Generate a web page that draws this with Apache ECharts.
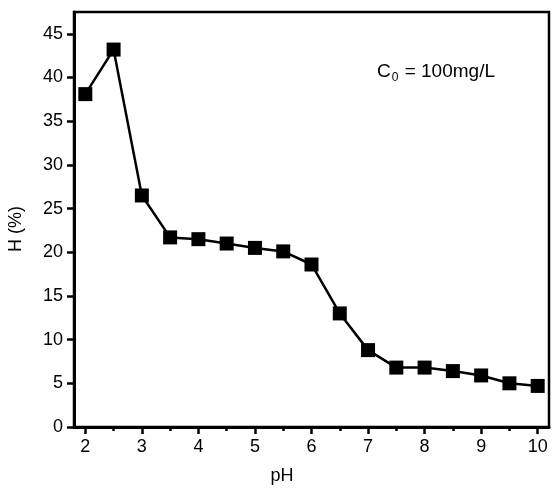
<!DOCTYPE html>
<html>
<head>
<meta charset="utf-8">
<script src="https://cdn.jsdelivr.net/npm/echarts@6/dist/echarts.min.js"></script>
<style>
  html, body { margin: 0; padding: 0; background: #fff; }
  #chart { width: 552px; height: 491px; }
</style>
</head>
<body>
<div id="chart"></div>
<script>
// pH values and H (%)
const phValues = [2, 2.5, 3, 3.5, 4, 4.5, 5, 5.5, 6, 6.5, 7, 7.5, 8, 8.5, 9, 9.5, 10]
const hValues = [38.1, 43.2, 26.5, 21.7, 21.5, 21.0, 20.5, 20.1, 18.6, 13.0, 8.8, 6.8, 6.8, 6.4, 5.9, 5.0, 4.7]
const xMajorTicks = [2, 3, 4, 5, 6, 7, 8, 9, 10]
const xMinorTicks = [2.5, 3.5, 4.5, 5.5, 6.5, 7.5, 8.5, 9.5]
const yMajorTicks = [0, 5, 10, 15, 20, 25, 30, 35, 40, 45]

const font = 'Liberation Sans, Arial, sans-serif'
let myChart = echarts.init(document.getElementById('chart'))

let option = {
    animation: false,
    backgroundColor: '#fff',
    grid: {
        left: 74,
        top: 12,
        right: 3,
        bottom: 64,
        show: true,
        borderColor: '#000',
        borderWidth: 2.5
    },
    xAxis: [
        {
            type: 'value',
            min: 1.8,
            max: 10.2,
            axisLine: { lineStyle: { color: '#000', width: 3 } },
            axisTick: { customValues: xMajorTicks, length: 7, lineStyle: { color: '#000', width: 2.5 } },
            axisLabel: { customValues: xMajorTicks, margin: 11, fontFamily: font, fontSize: 18, color: '#000' },
            splitLine: { show: false }
        },
        {
            // minor ticks on the pH axis
            type: 'value',
            min: 1.8,
            max: 10.2,
            position: 'bottom',
            axisLine: { show: false },
            axisTick: { customValues: xMinorTicks, length: 4, lineStyle: { color: '#000', width: 2.5 } },
            axisLabel: { show: false },
            splitLine: { show: false }
        }
    ],
    yAxis: {
        type: 'value',
        min: 0,
        max: 47.5,
        axisLine: { show: true, lineStyle: { color: '#000', width: 3 } },
        axisTick: { customValues: yMajorTicks, length: 7, lineStyle: { color: '#000', width: 2.5 } },
        minorTick: { show: true, splitNumber: 2, length: 4, lineStyle: { color: '#000', width: 2.5 } },
        axisLabel: { customValues: yMajorTicks, margin: 11, fontFamily: font, fontSize: 18, color: '#000' },
        splitLine: { show: false },
        minorSplitLine: { show: false }
    },
    series: [
        {
            type: 'line',
            data: phValues.map((p, i) => [p, hValues[i]]),
            symbol: 'rect',
            symbolSize: 14,
            itemStyle: { color: '#000' },
            lineStyle: { color: '#000', width: 2.5 }
        }
    ],
    graphic: [
        {
            type: 'text',
            x: 282,
            y: 476,
            style: { text: 'pH', fontFamily: font, fontSize: 18, fill: '#000', align: 'center', verticalAlign: 'middle' }
        },
        {
            type: 'text',
            x: 16,
            y: 229,
            rotation: Math.PI / 2,
            style: { text: 'H (%)', fontFamily: font, fontSize: 18, fill: '#000', align: 'center', verticalAlign: 'middle' }
        },
        {
            type: 'text',
            left: 377,
            top: 62,
            style: {
                text: '{c|C}{s|0}{c| = 100mg/L}',
                rich: {
                    c: { fontFamily: font, fontSize: 19, fill: '#000' },
                    s: { fontFamily: font, fontSize: 12, fill: '#000', padding: [12, 1, 0, 1] }
                }
            }
        }
    ]
}

myChart.setOption(option)
</script>
</body>
</html>
